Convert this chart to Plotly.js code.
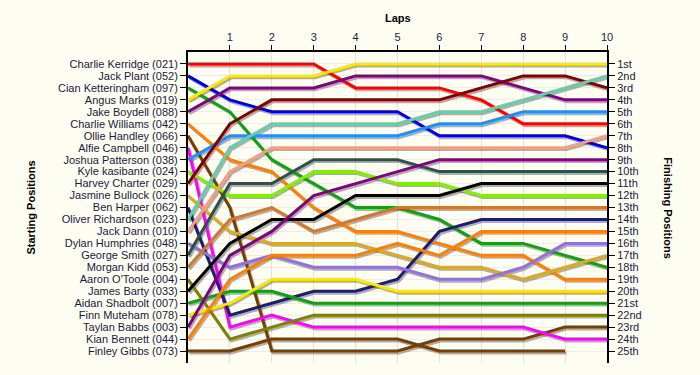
<!DOCTYPE html>
<html>
<head>
<meta charset="utf-8">
<script src="https://cdn.plot.ly/plotly-3.0.1.min.js"></script>
<style>
  html, body { margin: 0; padding: 0; background: #fdfdf2; }
  #chart { width: 700px; height: 375px; }
</style>
</head>
<body>
<div id="chart"></div>
<script>
// ---- Data ----
const laps = [0, 1, 2, 3, 4, 5, 6, 7, 8, 9, 10];
const startingLabels = [
  "Charlie Kerridge (021)", "Jack Plant (052)", "Cian Ketteringham (097)", "Angus Marks (019)",
  "Jake Boydell (088)", "Charlie Williams (042)", "Ollie Handley (066)", "Alfie Campbell (046)",
  "Joshua Patterson (038)", "Kyle kasibante (024)", "Harvey Charter (029)", "Jasmine Bullock (026)",
  "Ben Harper (062)", "Oliver Richardson (023)", "Jack Dann (010)", "Dylan Humphries (048)",
  "George Smith (027)", "Morgan Kidd (053)", "Aaron O'Toole (004)", "James Barty (033)",
  "Aidan Shadbolt (007)", "Finn Muteham (078)", "Taylan Babbs (003)", "Kian Bennett (044)",
  "Finley Gibbs (073)"
];
const finishingLabels = [
  "1st", "2nd", "3rd", "4th", "5th", "6th", "7th", "8th", "9th", "10th",
  "11th", "12th", "13th", "14th", "15th", "16th", "17th", "18th", "19th", "20th",
  "21st", "22nd", "23rd", "24th", "25th"
];

// position of each rider after each lap (lap 0 = start)
const kerridge     = [1, 1, 1, 1, 3, 3, 3, 4, 6, 6, 6];
const plant        = [2, 4, 5, 5, 5, 5, 7, 7, 7, 7, 8];
const ketteringham = [3, 5, 9, 11, 13, 13, 14, 16, 16, 17, 18];
const marks        = [4, 2, 2, 2, 1, 1, 1, 1, 1, 1, 1];
const boydell      = [5, 3, 3, 3, 2, 2, 2, 2, 3, 4, 4];
const williams     = [6, 9, 10, 13, 15, 15, 16, 17, 17, 19, 19];
const handley      = [7, 13, 25, 25, 25, 25, 24, 24, 24, 23, 23];
const campbell     = [8, 23, 22, 23, 23, 23, 23, 23, 23, 24, 24];
const patterson    = [9, 7, 7, 7, 7, 7, 6, 6, 5, 5, 5];
const kasibante    = [10, 12, 12, 10, 10, 11, 11, 12, 12, 12, 12];
const charter      = [11, 6, 4, 4, 4, 4, 4, 3, 2, 2, 3];
const bullock      = [12, 15, 16, 16, 16, 17, 18, 18, 19, 18, 17];
const harper       = [13, 22, 21, 20, 20, 19, 15, 14, 14, 14, 14];
const richardson   = [14, 8, 6, 6, 6, 6, 5, 5, 4, 3, 2];
const dann         = [15, 10, 8, 8, 8, 8, 8, 8, 8, 8, 7];
const humphries    = [16, 18, 17, 18, 18, 18, 19, 19, 18, 16, 16];
const smith        = [17, 11, 11, 9, 9, 9, 10, 10, 10, 10, 10];
const kidd         = [18, 14, 13, 15, 14, 13, 13, 13, 13, 13, 13];
const otoole       = [19, 24, 23, 22, 22, 22, 22, 22, 22, 22, 22];
const barty        = [20, 16, 14, 14, 12, 12, 12, 11, 11, 11, 11];
const shadbolt     = [21, 20, 20, 21, 21, 21, 21, 21, 21, 21, 21];
const muteham      = [22, 21, 19, 19, 19, 20, 20, 20, 20, 20, 20];
const babbs        = [23, 17, 15, 12, 11, 10, 9, 9, 9, 9, 9];
const bennett      = [24, 19, 17, 17, 17, 16, 17, 15, 15, 15, 15];
const gibbs        = [25, 25, 24, 24, 24, 24, 25, 25, 25, 25];

const riderSeries = [kerridge, plant, ketteringham, marks, boydell, williams, handley, campbell,
  patterson, kasibante, charter, bullock, harper, richardson, dann, humphries, smith, kidd,
  otoole, barty, shadbolt, muteham, babbs, bennett, gibbs];

const colors = [
  "#ff0000", "#0000dd", "#10a010", "#ffe800", "#800080", "#ff8000", "#7a3d00", "#ff00ff",
  "#1e90ff", "#80f000", "#800000", "#dcaa20", "#1c1c70", "#66cdaa", "#f4a07e", "#9370db",
  "#2f4f4f", "#d2782d", "#808000", "#000000",
  "#10a010", "#ffe800", "#800080", "#ff8000", "#7a3d00"
];

// ---- Traces ----
const traces = [];
// shadows first
riderSeries.forEach((ys, i) => {
  traces.push({
    x: laps.slice(0, ys.length).map(v => v + 0.035),
    y: ys.map(v => v + 0.16),
    mode: "lines",
    type: "scatter",
    line: { color: "rgba(80,80,80,0.45)", width: 3 },
    hoverinfo: "skip",
    showlegend: false
  });
});
riderSeries.forEach((ys, i) => {
  traces.push({
    x: laps.slice(0, ys.length),
    y: ys,
    name: startingLabels[i],
    mode: "lines",
    type: "scatter",
    line: { color: colors[i], width: 3 },
    showlegend: false
  });
});
// carrier for right axis
traces.push({ x: [null], y: [null], yaxis: "y2", type: "scatter", mode: "lines", showlegend: false, hoverinfo: "skip" });

const posVals = startingLabels.map((_, i) => i + 1);
const tickFont = { family: "Liberation Sans, Arial, sans-serif", size: 11, color: "#1a1a40" };
const titleFont = { family: "Liberation Sans, Arial, sans-serif", size: 11, color: "#000000" };

const layout = {
  width: 700,
  height: 375,
  margin: { l: 188, r: 93, t: 52, b: 12 },
  paper_bgcolor: "#fdfdf2",
  plot_bgcolor: "#fdfdf2",
  showlegend: false,
  hovermode: false,
  xaxis: {
    side: "top",
    range: [0, 10],
    tickvals: laps.slice(1),
    ticktext: laps.slice(1).map(String),
    ticks: "outside",
    ticklen: 5,
    tickcolor: "#000",
    showline: true,
    linecolor: "#000",
    linewidth: 2,
    showgrid: true,
    gridcolor: "#e2e2e2",
    gridwidth: 1,
    zeroline: false,
    tickfont: tickFont
  },
  yaxis: {
    range: [26, 0],
    tickvals: posVals,
    ticktext: startingLabels,
    ticks: "outside",
    ticklen: 6,
    tickcolor: "#000",
    showline: true,
    linecolor: "#000",
    linewidth: 2,
    showgrid: true,
    gridcolor: "#ececec",
    gridwidth: 1,
    zeroline: false,
    tickfont: tickFont
  },
  yaxis2: {
    overlaying: "y",
    side: "right",
    range: [26, 0],
    tickvals: posVals,
    ticktext: finishingLabels,
    ticks: "outside",
    ticklen: 6,
    tickcolor: "#000",
    showline: true,
    linecolor: "#000",
    linewidth: 2,
    showgrid: false,
    zeroline: false,
    tickfont: tickFont
  },
  annotations: [
    { text: "<b>Laps</b>", xref: "paper", yref: "paper", x: 0.5, y: 1.109, showarrow: false,
      xanchor: "center", yanchor: "middle", font: titleFont },
    { text: "<b>Starting Positions</b>", xref: "paper", yref: "paper", x: -0.377, y: 0.5, showarrow: false,
      textangle: -90, xanchor: "center", yanchor: "middle", font: titleFont },
    { text: "<b>Finishing Positions</b>", xref: "paper", yref: "paper", x: 1.146, y: 0.5, showarrow: false,
      textangle: 90, xanchor: "center", yanchor: "middle", font: titleFont }
  ]
};

Plotly.newPlot("chart", traces, layout, { displayModeBar: false, staticPlot: true });
</script>
</body>
</html>
